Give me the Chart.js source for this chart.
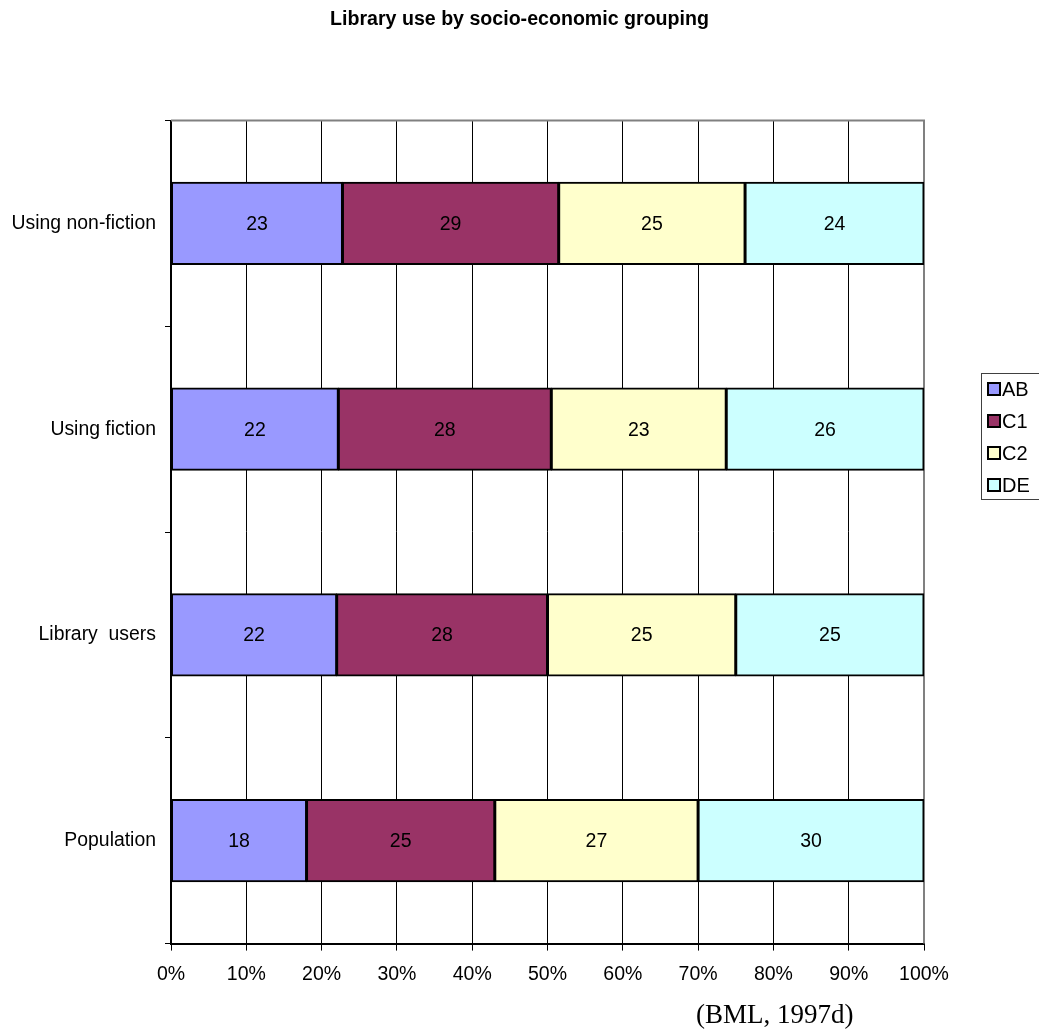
<!DOCTYPE html>
<html>
<head>
<meta charset="utf-8">
<script src="https://cdn.jsdelivr.net/npm/chart.js@4"></script>
<style>
  html, body { margin: 0; padding: 0; background: #ffffff; }
  #wrap { width: 1039px; height: 1034px; position: relative; }
</style>
</head>
<body>
<div id="wrap"><canvas id="c" width="1039" height="1034"></canvas></div>
<script>
// ---- data ----
const categories = ['Using non-fiction', 'Using fiction', 'Library  users', 'Population'];
const seriesNames = ['AB', 'C1', 'C2', 'DE'];
const valuesAB = [23, 22, 22, 18];
const valuesC1 = [29, 28, 28, 25];
const valuesC2 = [25, 23, 25, 27];
const valuesDE = [24, 26, 25, 30];
const seriesColors = ['#9999FF', '#993366', '#FFFFCC', '#CCFFFF'];
const xTicks = [0, 10, 20, 30, 40, 50, 60, 70, 80, 90, 100];
const titleText = 'Library use by socio-economic grouping';
const sourceText = '(BML, 1997d)';

const rawSeries = [valuesAB, valuesC1, valuesC2, valuesDE];
// 100% stacked: each row normalised to its own total
const rowTotals = categories.map((_, i) => rawSeries.reduce((s, arr) => s + arr[i], 0));
const pctSeries = rawSeries.map(arr => arr.map((v, i) => v / rowTotals[i] * 100));

const FONT = '"Liberation Sans", Arial, sans-serif';

const datasets = seriesNames.map((name, k) => ({
  label: name,
  data: pctSeries[k],
  raw: rawSeries[k],
  backgroundColor: seriesColors[k],
  borderColor: '#000000',
  borderWidth: 2,
  borderSkipped: false,
  inflateAmount: 0.5,
  barPercentage: 0.4,
  categoryPercentage: 1.0
}));

const labelPlugin = {
  id: 'barLabels',
  afterDatasetsDraw(chart) {
    const ctx = chart.ctx;
    ctx.save();
    ctx.font = '19.5px ' + FONT;
    ctx.fillStyle = '#000000';
    ctx.textAlign = 'center';
    ctx.textBaseline = 'middle';
    chart.data.datasets.forEach((ds, di) => {
      const meta = chart.getDatasetMeta(di);
      meta.data.forEach((el, i) => {
        const p = el.getCenterPoint();
        ctx.fillText(String(ds.raw[i]), p.x, p.y + 1);
      });
    });
    ctx.restore();
  }
};

const framePlugin = {
  id: 'frame',
  beforeDatasetsDraw(chart) {
    const a = chart.chartArea, ctx = chart.ctx;
    ctx.save();
    ctx.strokeStyle = '#808080';
    ctx.lineWidth = 2;
    ctx.beginPath();
    ctx.moveTo(a.left, a.top);
    ctx.lineTo(a.right, a.top);
    ctx.lineTo(a.right, a.bottom);
    ctx.stroke();
    ctx.restore();
  },
  afterDraw(chart) {
    const ctx = chart.ctx, a = chart.chartArea;
    ctx.save();
    // legend
    const lx = a.right + 57, ly = 373, lw = 70, lh = 126;
    ctx.strokeStyle = '#404040';
    ctx.lineWidth = 1;
    ctx.strokeRect(lx + 0.5, ly + 0.5, lw, lh);
    ctx.font = '20px ' + FONT;
    ctx.textBaseline = 'middle';
    ctx.textAlign = 'left';
    chart.data.datasets.forEach((ds, i) => {
      const cy = ly + 16 + i * 32;
      ctx.fillStyle = ds.backgroundColor;
      ctx.fillRect(lx + 7, cy - 6, 12, 12);
      ctx.strokeStyle = '#000000';
      ctx.lineWidth = 2;
      ctx.strokeRect(lx + 7, cy - 6, 12, 12);
      ctx.fillStyle = '#000000';
      ctx.fillText(ds.label, lx + 21, cy + 1);
    });
    // source note
    ctx.font = '27px "Liberation Serif", "Times New Roman", serif';
    ctx.textBaseline = 'middle';
    ctx.textAlign = 'left';
    ctx.fillText(sourceText, a.right - 228, 1016);
    ctx.restore();
  }
};

new Chart(document.getElementById('c'), {
  type: 'bar',
  data: { labels: categories, datasets },
  options: {
    indexAxis: 'y',
    responsive: false,
    animation: false,
    devicePixelRatio: 1,
    layout: { padding: { left: 0, right: 0, top: 0, bottom: 36 } },
    plugins: {
      legend: { display: false },
      tooltip: { enabled: false },
      title: {
        display: true,
        text: titleText,
        color: '#000000',
        font: { family: FONT, size: 19.6, weight: 'bold' },
        padding: { top: 8, bottom: 89 }
      }
    },
    scales: {
      x: {
        stacked: true,
        min: 0,
        max: 100,
        afterBuildTicks(scale) { scale.ticks = xTicks.map(v => ({ value: v })); },
        ticks: {
          callback: v => v + '%',
          color: '#000000',
          font: { family: FONT, size: 19.5 },
          padding: 12,
          maxRotation: 0
        },
        grid: {
          color: ctx => (ctx.index === xTicks.length - 1 ? '#808080' : '#000000'),
          lineWidth: 1,
          tickLength: 7,
          tickColor: '#000000'
        },
        border: { display: true, color: '#000000', width: 2 }
      },
      y: {
        stacked: true,
        afterFit(scale) { scale.width = 171; },
        ticks: {
          color: '#000000',
          font: { family: FONT, size: 19.4 },
          padding: 9
        },
        grid: {
          offset: true,
          drawOnChartArea: false,
          tickLength: 6,
          tickColor: '#000000',
          lineWidth: 1
        },
        border: { display: true, color: '#000000', width: 2 }
      },
      // empty right-hand strip that holds the legend
      legendSpace: {
        type: 'linear',
        position: 'right',
        display: true,
        afterFit(scale) { scale.width = 115; },
        grid: { display: false, drawTicks: false },
        border: { display: false },
        ticks: { display: false }
      }
    }
  },
  plugins: [labelPlugin, framePlugin]
});
</script>
</body>
</html>
